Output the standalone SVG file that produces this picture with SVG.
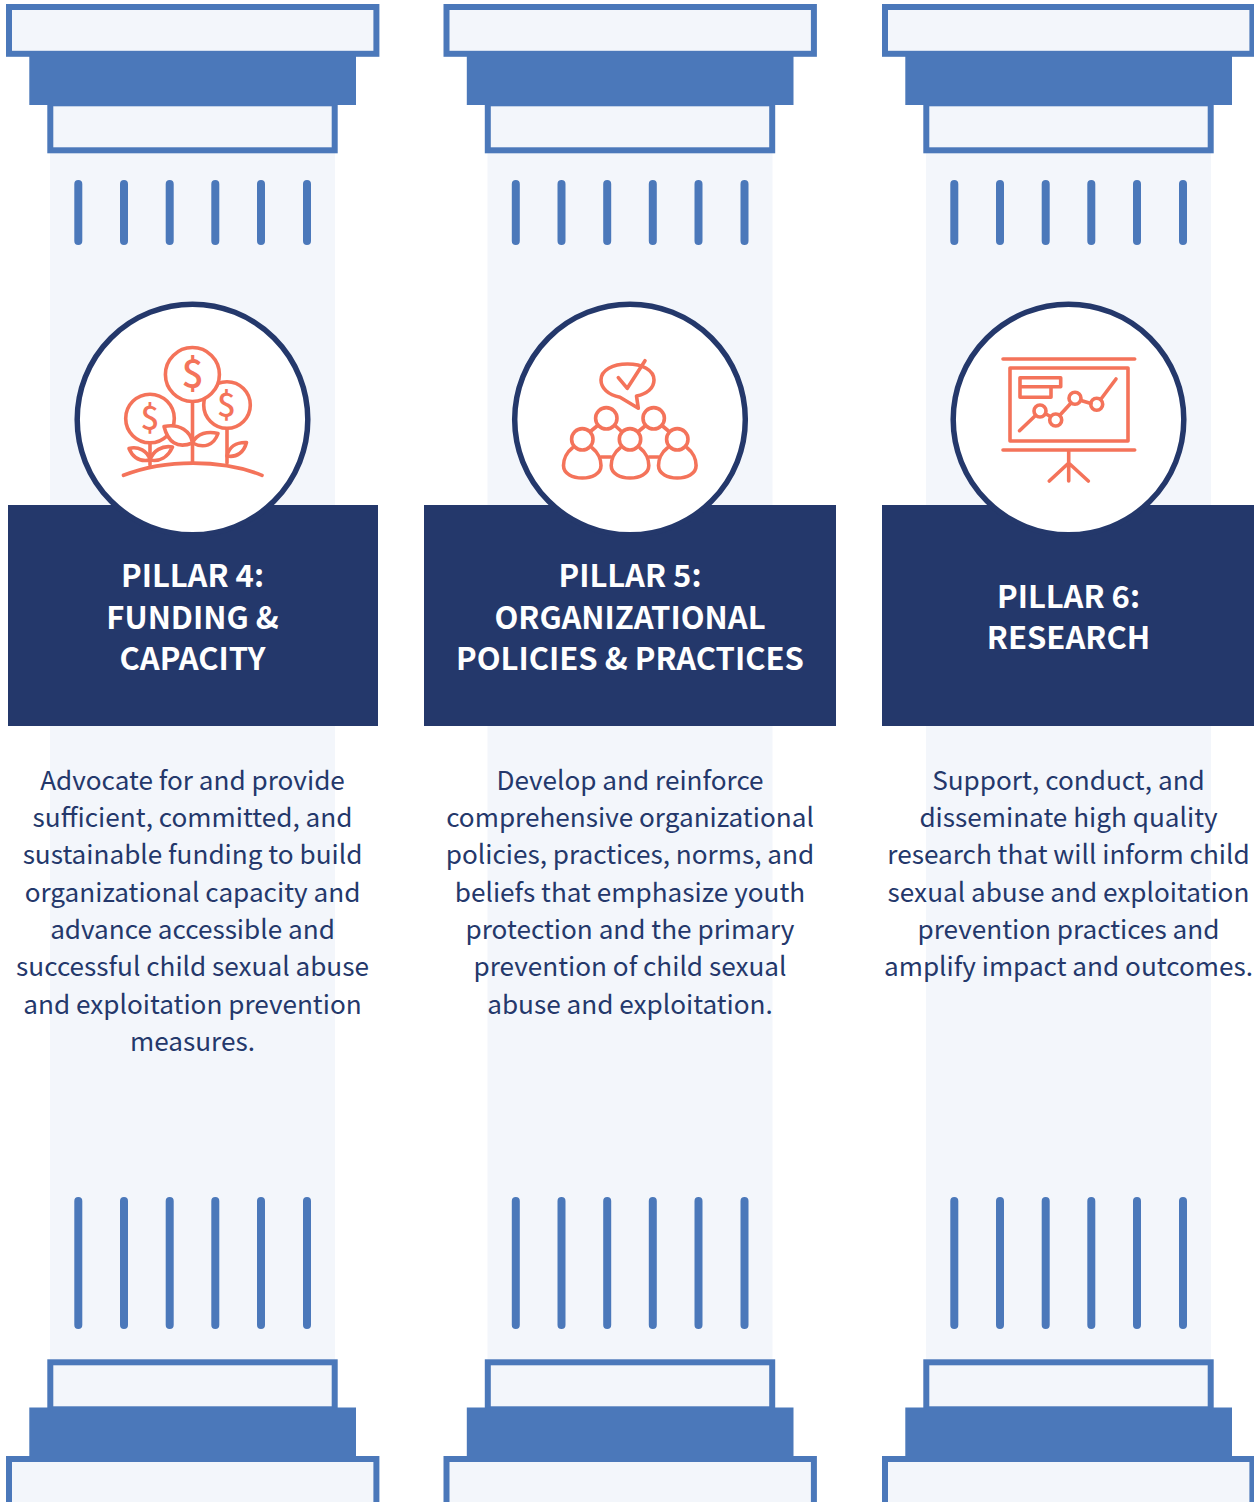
<svg xmlns="http://www.w3.org/2000/svg" xmlns:xlink="http://www.w3.org/1999/xlink" width="1254" height="1502" viewBox="0 0 1254 1502">
<style>
.lt{fill:#f3f6fb}
.bl{fill:#4b78ba}
.fr{fill:#f3f6fb;stroke:#4b78ba;stroke-width:6}
.fl{stroke:#4b78ba;stroke-width:8;stroke-linecap:round;fill:none}
.nv{fill:#24386b}
.ring{fill:#fff;stroke:#24386b;stroke-width:5.5}
.ic{fill:none;stroke:#f4735a;stroke-width:3.6;stroke-linecap:round;stroke-linejoin:round}
.icw{fill:#fff;stroke:#f4735a;stroke-width:3.6;stroke-linecap:round;stroke-linejoin:round}
.dl{font-family:"Noto Sans CJK JP","Noto Sans",sans-serif;font-weight:500;fill:#f4735a;text-anchor:middle}
.t{font-family:"Noto Sans CJK JP","Noto Sans",sans-serif;font-size:26.15px;fill:#24386b;text-anchor:middle}
.h{font-family:"Noto Sans CJK JP","Noto Sans",sans-serif;font-size:31px;font-weight:700;fill:#fff;text-anchor:middle}
</style>
<defs>
<g id="col">
<rect class="lt" x="50" y="150" width="285" height="1215"/>
<rect class="fr" x="50.3" y="103.3" width="284.4" height="47"/>
<rect class="bl" x="29.3" y="54" width="326.7" height="51"/>
<rect class="fr" x="9" y="7" width="367.4" height="46.8"/>
<path class="fl" d="M78.3 184V241M124 184V241M169.7 184V241M215.3 184V241M261 184V241M307 184V241"/>
<path class="fl" d="M78.3 1201V1325M124 1201V1325M169.7 1201V1325M215.3 1201V1325M261 1201V1325M307 1201V1325"/>
<rect class="fr" x="50.3" y="1362.3" width="284.4" height="47"/>
<rect class="bl" x="29.3" y="1407.5" width="326.7" height="51.5"/>
<rect class="fr" x="9" y="1459" width="367.4" height="60"/>
</g>
</defs>
<g id="connectors"></g>

<g id="pillar-4">
<use xlink:href="#col" href="#col"/>
<rect class="nv" x="8" y="505" width="370" height="221"/>
<circle class="ring" cx="192.5" cy="419.5" r="115.3"/>
<g id="icon-funding">
<circle class="ic" cx="227" cy="405" r="23.3"/>
<circle class="icw" cx="192.4" cy="374.5" r="27"/>
<circle class="ic" cx="150" cy="418.5" r="24.3"/>
<path class="ic" d="M192.5 402V463M227 429V463M150 443V465"/>
<path class="ic" d="M123.5 475.3C165 459 222 459 262 475.3"/>
<path class="icw" d="M164 426.5C180 423 191 432 192.5 443C177 449 168 442 164 426.5Z"/>
<path class="ic" d="M192.5 443C197 433 208 431 218 433.5C214 445 204 449 192.5 443Z"/>
<path class="ic" d="M129 448.5C138 446 148 451 150 460C140 462 133 458 129 448.5Z"/>
<path class="ic" d="M150 460C153 451 162 445 172.5 447C168 457 160 462 150 460Z"/>
<path class="ic" d="M227 456C229 447 236 442 246.5 442.5C244 452 237 458 227 456Z"/>
<text class="dl" x="192.5" y="388" font-size="39">$</text>
<text class="dl" x="226.5" y="416.5" font-size="33">$</text>
<text class="dl" x="150" y="430" font-size="33">$</text>
</g>
<text class="h" x="192.5" y="587.2">PILLAR 4:</text>
<text class="h" x="192.5" y="629.2">FUNDING &amp;</text>
<text class="h" x="192.5" y="670.2">CAPACITY</text>
<text class="t" x="192.5" y="789.6">Advocate for and provide</text>
<text class="t" x="192.5" y="826.9">sufficient, committed, and</text>
<text class="t" x="192.5" y="864.2">sustainable funding to build</text>
<text class="t" x="192.5" y="901.6">organizational capacity and</text>
<text class="t" x="192.5" y="938.9">advance accessible and</text>
<text class="t" x="192.5" y="976.2">successful child sexual abuse</text>
<text class="t" x="192.5" y="1013.6">and exploitation prevention</text>
<text class="t" x="192.5" y="1050.9">measures.</text>
</g>

<g id="pillar-5">
<use xlink:href="#col" href="#col" x="437.5"/>
<rect class="nv" x="424" y="505" width="412" height="221"/>
<circle class="ring" cx="630" cy="419.5" r="115.3"/>
<g id="icon-policies">
<path class="ic" d="M620 397.3C608 395 601 388 601 380C601 370 613 364 627.5 364C642 364 654 370 654 380C654 388 647 394 636.5 396L638.3 408.3Z"/>
<path class="ic" d="M618.3 377.7L627.3 388.3L645 360.7"/>
<circle class="ic" cx="606.3" cy="418.3" r="10.7"/>
<circle class="ic" cx="653.7" cy="418.3" r="10.7"/>
<circle class="ic" cx="582.3" cy="439.3" r="10.7"/>
<circle class="ic" cx="630" cy="439.3" r="10.7"/>
<circle class="ic" cx="677.3" cy="439.3" r="10.7"/>
<path class="ic" d="M572.3 448C567 452 563.5 459 563.5 465.5C563.5 474 573 478 582.3 478C591.6 478 601 474 601 465.5C601 459 597.5 452 592.3 448"/>
<path class="ic" d="M620 448C614.7 452 611.2 459 611.2 465.5C611.2 474 620.7 478 630 478C639.3 478 648.8 474 648.8 465.5C648.8 459 645.3 452 640 448"/>
<path class="ic" d="M667.3 448C662 452 658.5 459 658.5 465.5C658.5 474 668 478 677.3 478C686.6 478 696.1 474 696.1 465.5C696.1 459 692.6 452 687.3 448"/>
<path class="ic" d="M591 431L597 426M615.5 426L621 431M639 431L645 426M662.5 426L668.5 431M601 457H611M649 457H658.5"/>
</g>
<text class="h" x="630" y="587.2">PILLAR 5:</text>
<text class="h" x="630" y="629.2">ORGANIZATIONAL</text>
<text class="h" x="630" y="670.2">POLICIES &amp; PRACTICES</text>
<text class="t" x="630" y="789.6">Develop and reinforce</text>
<text class="t" x="630" y="826.9">comprehensive organizational</text>
<text class="t" x="630" y="864.2">policies, practices, norms, and</text>
<text class="t" x="630" y="901.6">beliefs that emphasize youth</text>
<text class="t" x="630" y="938.9">protection and the primary</text>
<text class="t" x="630" y="976.2">prevention of child sexual</text>
<text class="t" x="630" y="1013.6">abuse and exploitation.</text>
</g>

<g id="pillar-6">
<use xlink:href="#col" href="#col" x="876"/>
<rect class="nv" x="882" y="505" width="372" height="221"/>
<circle class="ring" cx="1068.5" cy="419.5" r="115.3"/>
<g id="icon-research">
<path class="ic" d="M1003 359H1134.7M1003 450H1134.7M1068.7 450V481M1068.7 463L1049.3 481M1068.7 463L1088.3 481"/>
<rect class="ic" x="1010" y="368" width="118" height="73"/>
<path class="ic" d="M1020 377.7H1060.7V386.7H1051V397.3H1020ZM1020 386.7H1051"/>
<path class="ic" d="M1019.5 430.7L1035.5 415.5M1046 414L1050.5 416.5M1060 415L1071 403M1081 400.5L1091 403.5M1101 399L1116 379"/>
<circle class="ic" cx="1040" cy="411" r="6"/>
<circle class="ic" cx="1055.7" cy="420" r="6"/>
<circle class="ic" cx="1075" cy="398.3" r="6"/>
<circle class="ic" cx="1096.7" cy="404.3" r="6"/>
</g>
<text class="h" x="1068.5" y="608.2">PILLAR 6:</text>
<text class="h" x="1068.5" y="649.2">RESEARCH</text>
<text class="t" x="1068.5" y="789.6">Support, conduct, and</text>
<text class="t" x="1068.5" y="826.9">disseminate high quality</text>
<text class="t" x="1068.5" y="864.2">research that will inform child</text>
<text class="t" x="1068.5" y="901.6">sexual abuse and exploitation</text>
<text class="t" x="1068.5" y="938.9">prevention practices and</text>
<text class="t" x="1068.5" y="976.2">amplify impact and outcomes.</text>
</g>
</svg>
